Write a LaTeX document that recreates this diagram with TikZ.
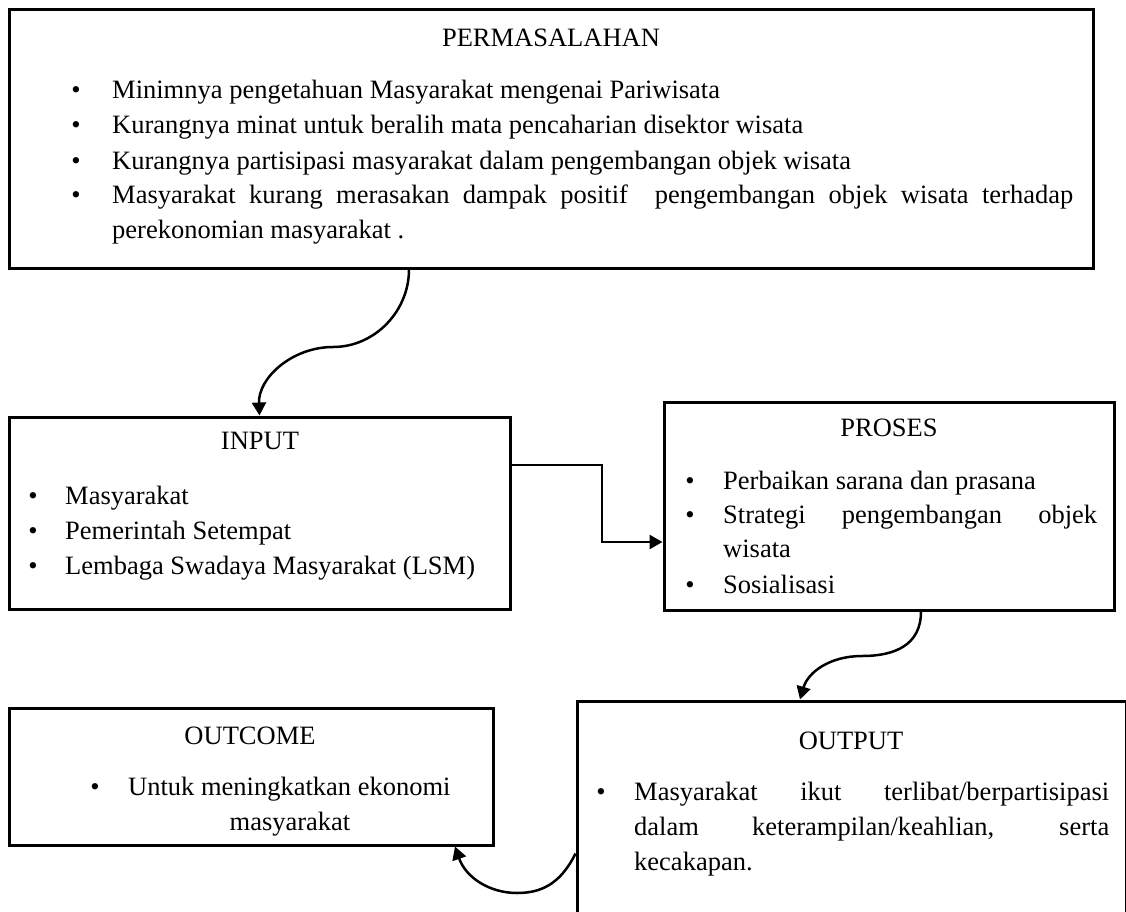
\documentclass[tikz,border=0pt]{standalone}
\usepackage{fontspec}
\setmainfont{Liberation Serif}
\usetikzlibrary{arrows.meta}
\begin{document}
\begin{tikzpicture}[x=1pt,y=-1pt,
  box/.style={draw, line width=3pt, inner sep=0pt},
  txt/.style={inner sep=0pt, yshift=-6pt, font=\fontsize{26.5}{32}\selectfont},
  conn/.style={line width=2.5pt, -{Triangle[length=13pt,width=14pt]}},
]
\clip (0,0) rectangle (1126,912);
\fill[white] (0,0) rectangle (1126,912);

% PERMASALAHAN
\node[box, minimum width=1084pt, minimum height=258pt] (top) at (551,139) {};
\node[txt, anchor=mid] (t0) at (551,38) {PERMASALAHAN};
\node[txt, anchor=mid] (t1b) at (76,90) {\textbullet};
\node[txt, anchor=mid west] (t1) at (112,90) {Minimnya pengetahuan Masyarakat mengenai Pariwisata};
\node[txt, anchor=mid] (t2b) at (76,125) {\textbullet};
\node[txt, anchor=mid west] (t2) at (112,125) {Kurangnya minat untuk beralih mata pencaharian disektor wisata};
\node[txt, anchor=mid] (t3b) at (76,161) {\textbullet};
\node[txt, anchor=mid west] (t3) at (112,161) {Kurangnya partisipasi masyarakat dalam pengembangan objek wisata};
\node[txt, anchor=mid] (t4b) at (76,195) {\textbullet};
\node[txt, anchor=mid west] (t4a) at (112,195) {\makebox[961pt][s]{Masyarakat kurang merasakan dampak positif~ pengembangan objek wisata terhadap}};
\node[txt, anchor=mid west] (t4c) at (112,230) {perekonomian masyarakat .};

% INPUT
\node[box, minimum width=501pt, minimum height=192pt] (inp) at (259.5,513) {};
\node[txt, anchor=mid] (i0) at (260,441) {INPUT};
\node[txt, anchor=mid] (i1b) at (33,496) {\textbullet};
\node[txt, anchor=mid west] (i1) at (65,496) {Masyarakat};
\node[txt, anchor=mid] (i2b) at (33,531) {\textbullet};
\node[txt, anchor=mid west] (i2) at (65,531) {Pemerintah Setempat};
\node[txt, anchor=mid] (i3b) at (33,566) {\textbullet};
\node[txt, anchor=mid west] (i3) at (65,566) {Lembaga Swadaya Masyarakat (LSM)};

% PROSES
\node[box, minimum width=450pt, minimum height=208pt] (pros) at (889,506) {};
\node[txt, anchor=mid] (p0) at (889,428) {PROSES};
\node[txt, anchor=mid] (p1b) at (690,481) {\textbullet};
\node[txt, anchor=mid west] (p1) at (723,481) {Perbaikan sarana dan prasana};
\node[txt, anchor=mid] (p2b) at (690,515) {\textbullet};
\node[txt, anchor=mid west] (p2a) at (723,515) {\makebox[374pt][s]{Strategi pengembangan objek}};
\node[txt, anchor=mid west] (p2c) at (723,549) {wisata};
\node[txt, anchor=mid] (p3b) at (690,585) {\textbullet};
\node[txt, anchor=mid west] (p3) at (723,585) {Sosialisasi};

% OUTCOME
\node[box, minimum width=484pt, minimum height=137pt] (outc) at (251,776.5) {};
\node[txt, anchor=mid] (o0) at (250,736) {OUTCOME};
\node[txt, anchor=mid] (o1b) at (95,787) {\textbullet};
\node[txt, anchor=mid west] (o1a) at (128,787) {Untuk meningkatkan ekonomi};
\node[txt, anchor=mid] (o1c) at (290,822) {masyarakat};

% OUTPUT
\node[box, minimum width=549pt, minimum height=244pt] (outp) at (851.5,823) {};
\node[txt, anchor=mid] (u0) at (851,741) {OUTPUT};
\node[txt, anchor=mid] (u1b) at (601,792) {\textbullet};
\node[txt, anchor=mid west] (u1a) at (634,792) {\makebox[475pt][s]{Masyarakat ikut terlibat/berpartisipasi}};
\node[txt, anchor=mid west] (u1c) at (634,827) {\makebox[475pt][s]{dalam keterampilan/keahlian, serta}};
\node[txt, anchor=mid west] (u1d) at (634,862) {kecakapan.};

% connectors
\draw[conn] ([xshift=-142pt]top.south) .. controls (409,311) and (375,347) .. (333,347)
  .. controls (292,347) and (258,378) .. (inp.north);
\draw[conn] ([yshift=48pt]inp.east) -| (602,500) |- ([yshift=-36pt]pros.west);
\draw[conn] ([xshift=32pt]pros.south) .. controls (921,645) and (895,656) .. (862,656)
  .. controls (830,656) and (808,672) .. ([xshift=-51.5pt]outp.north);
\draw[conn] ([yshift=-154pt]outp.north west) .. controls (560,885) and (540,893) .. (517,893)
  .. controls (490,893) and (466,878) .. ([xshift=204pt]outc.south);
\end{tikzpicture}
\end{document}
